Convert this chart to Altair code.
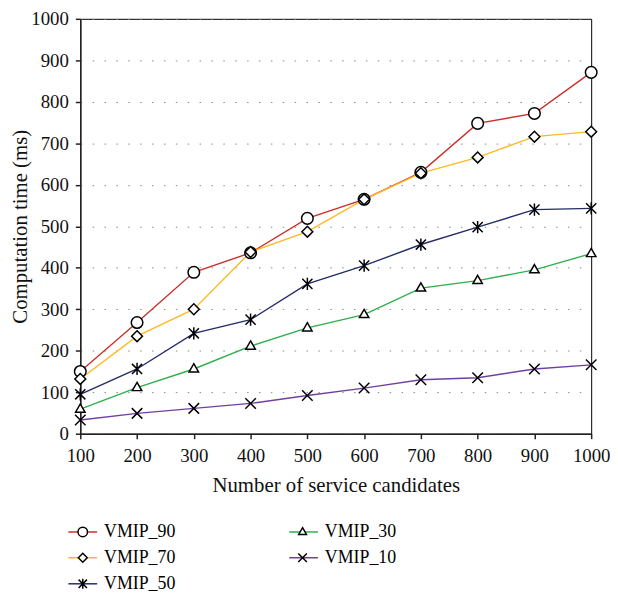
import altair as alt
import pandas as pd

# ---- data ----
candidates = [100, 200, 300, 400, 500, 600, 700, 800, 900, 1000]
vmip_90 = [150, 268, 389, 436, 519, 565, 630, 748, 772, 871]
vmip_70 = [132, 235, 300, 438, 487, 565, 628, 666, 716, 728]
vmip_50 = [95, 156, 242, 275, 361, 405, 456, 498, 540, 543]
vmip_30 = [59, 111, 156, 211, 255, 287, 351, 369, 395, 434]
vmip_10 = [33, 49, 61, 73, 92, 110, 130, 135, 156, 166]
y_ticks = [0, 100, 200, 300, 400, 500, 600, 700, 800, 900, 1000]

series = {
    "VMIP_90": vmip_90,
    "VMIP_70": vmip_70,
    "VMIP_50": vmip_50,
    "VMIP_30": vmip_30,
    "VMIP_10": vmip_10,
}

legend_order = ["VMIP_90", "VMIP_70", "VMIP_50", "VMIP_30", "VMIP_10"]
colors = {
    "VMIP_90": "#C9302C",
    "VMIP_70": "#FDBA21",
    "VMIP_50": "#252C68",
    "VMIP_30": "#2EAF4C",
    "VMIP_10": "#7040A0",
}
shapes = {
    "VMIP_90": "M0.33,0A0.33,0.33,0,1,1,-0.33,0A0.33,0.33,0,1,1,0.33,0Z",
    "VMIP_70": "M0,-0.31L0.31,0L0,0.31L-0.31,0Z",
    "VMIP_50": "M-0.29,-0.29L0.29,0.29M-0.29,0.29L0.29,-0.29M0,-0.35L0,0.35",
    "VMIP_30": "M0,-0.3L0.27,0.17L-0.27,0.17Z",
    "VMIP_10": "M-0.3,-0.3L0.3,0.3M-0.3,0.3L0.3,-0.3",
}

rows = []
for name, vals in series.items():
    for x, v in zip(candidates, vals):
        rows.append({"x": x, "value": v, "series": name, "series_s": name})
df = pd.DataFrame(rows)

FONT = "Liberation Serif"

legend_common = dict(
    orient="none",
    legendX=-13,
    legendY=502.5,
    columns=2,
    rowPadding=1.3,
    symbolSize=841,
    symbolStrokeWidth=1.5,
    labelFont=FONT,
    labelFontSize=18,
    labelOffset=6,
    labelLimit=0,
    title=None,
    padding=0,
)

base = alt.Chart(df).encode(
    x=alt.X(
        "x:Q",
        scale=alt.Scale(domain=[100, 1000], nice=False),
        axis=alt.Axis(
            values=candidates,
            format="d",
            title="Number of service candidates",
            grid=False,
            labelFlush=False,
            labelFont=FONT,
            titleFont=FONT,
        ),
    ),
    y=alt.Y(
        "value:Q",
        scale=alt.Scale(domain=[0, 1000], nice=False),
        axis=alt.Axis(
            values=y_ticks,
            format="d",
            title="Computation time (ms)",
            grid=True,
            gridDash=[1.5, 10.5],
            gridColor="#888888",
            gridWidth=1,
            labelFlush=False,
            labelFont=FONT,
            titleFont=FONT,
        ),
    ),
)

lines = base.mark_line(strokeWidth=1.4).encode(
    color=alt.Color(
        "series:N",
        sort=legend_order,
        scale=alt.Scale(range=[colors[k] for k in legend_order]),
        legend=alt.Legend(symbolType="stroke", columnPadding=111, **legend_common),
    )
)

# marker legend laid over the line legend (blank labels, wider column gap to line up)
points = base.mark_point(
    filled=False, strokeWidth=1.5, opacity=1, size=1253
).encode(
    shape=alt.Shape(
        "series_s:N",
        sort=legend_order,
        scale=alt.Scale(range=[shapes[k] for k in legend_order]),
        legend=alt.Legend(
            labelColor="transparent", labelExpr="''", columnPadding=185, **legend_common
        ),
    ),
    stroke=alt.value("black"),
    fill=alt.value("white"),
)

chart = (
    alt.layer(lines, points)
    .properties(
        width=516,
        height=419,
        autosize=alt.AutoSizeParams(type="none"),
        padding={"left": 73, "top": 8, "right": 19, "bottom": 163},
    )
    .configure_view(stroke="black", strokeWidth=1)
    .configure_axis(
        labelFont=FONT,
        labelFontSize=19,
        labelColor="#111111",
        titleFont=FONT,
        titleFontSize=21,
        titleFontWeight="normal",
        titleColor="#111111",
        domainColor="#222222",
        domainWidth=1.5,
        tickColor="#222222",
        tickWidth=1.5,
        tickSize=5,
    )
    .configure_axisX(labelPadding=8, titlePadding=9)
    .configure_axisY(labelPadding=7, titlePadding=0)
)

chart.save("out.html", embed_options={"renderer": "svg", "actions": False})
